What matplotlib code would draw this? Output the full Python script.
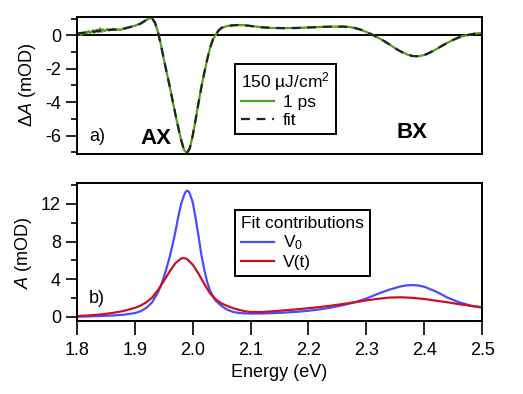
import matplotlib
matplotlib.use("Agg")
import matplotlib.pyplot as plt
from matplotlib.ticker import MultipleLocator

plt.rcParams['font.family'] = ['Liberation Sans', 'DejaVu Sans']
plt.rcParams['mathtext.fontset'] = 'custom'
plt.rcParams['mathtext.rm'] = 'Liberation Sans'
plt.rcParams['mathtext.it'] = 'Liberation Sans:italic'
plt.rcParams['axes.unicode_minus'] = False
plt.rcParams['font.size'] = 13

# --- a) transient absorption at 1 ps, 150 uJ/cm2 ---
e_fit = [1.800, 1.810, 1.820, 1.830, 1.840, 1.850, 1.860, 1.870, 1.880, 1.890,
         1.900, 1.910, 1.920, 1.925, 1.930, 1.935, 1.940, 1.945, 1.950, 1.955,
         1.960, 1.965, 1.970, 1.975, 1.980, 1.985, 1.990, 1.995, 2.000, 2.005,
         2.010, 2.015, 2.020, 2.025, 2.030, 2.035, 2.040, 2.045, 2.050, 2.060,
         2.070, 2.080, 2.090, 2.100, 2.120, 2.140, 2.160, 2.180, 2.200, 2.220,
         2.240, 2.260, 2.270, 2.280, 2.290, 2.300, 2.310, 2.320, 2.330, 2.340,
         2.350, 2.360, 2.370, 2.380, 2.390, 2.400, 2.410, 2.420, 2.430, 2.440,
         2.450, 2.460, 2.470, 2.480, 2.490, 2.500]
dA_fit = [0.10, 0.15, 0.18, 0.22, 0.28, 0.30, 0.33, 0.35, 0.40, 0.48,
          0.57, 0.70, 0.92, 1.02, 1.00, 0.75, 0.20, -0.55, -1.40, -2.20,
          -3.00, -3.85, -4.70, -5.50, -6.25, -6.85, -7.05, -6.75, -6.00, -5.05,
          -4.05, -3.10, -2.25, -1.45, -0.75, -0.25, 0.05, 0.30, 0.45, 0.56,
          0.60, 0.62, 0.60, 0.56, 0.48, 0.44, 0.43, 0.44, 0.47, 0.50,
          0.52, 0.52, 0.50, 0.44, 0.34, 0.20, 0.04, -0.14, -0.33, -0.55,
          -0.78, -0.98, -1.14, -1.24, -1.25, -1.18, -1.03, -0.84, -0.64, -0.44,
          -0.27, -0.12, -0.02, 0.06, 0.11, 0.14]

# measured trace: noisy low-energy part, then follows the fit
e_noisy = [1.8000, 1.8025, 1.8050, 1.8075, 1.8100, 1.8125, 1.8150, 1.8175,
           1.8200, 1.8225, 1.8250, 1.8275, 1.8300, 1.8325, 1.8350, 1.8375,
           1.8400, 1.8425, 1.8450, 1.8475, 1.8500, 1.8525, 1.8550, 1.8575,
           1.8600, 1.8625, 1.8650, 1.8675, 1.8700, 1.8725, 1.8750, 1.8775,
           1.8800, 1.8825, 1.8850, 1.8875]
dA_noisy = [0.12, 0.05, 0.14, 0.02, 0.16, 0.10, 0.22, 0.12,
            0.26, 0.14, 0.20, 0.30, 0.16, 0.28, 0.34, 0.18,
            0.42, 0.20, 0.36, 0.26, 0.30, 0.38, 0.30, 0.36,
            0.33, 0.40, 0.34, 0.37, 0.33, 0.36, 0.32, 0.35,
            0.40, 0.38, 0.42, 0.44]
e_data = e_noisy + [e for e in e_fit if e >= 1.89]
dA_data = dA_noisy + [v for e, v in zip(e_fit, dA_fit) if e >= 1.89]

# --- b) fit contributions ---
e_v0 = [1.80, 1.82, 1.84, 1.86, 1.88, 1.90, 1.91, 1.92, 1.93, 1.940,
        1.945, 1.950, 1.955, 1.960, 1.965, 1.970, 1.975, 1.980, 1.985, 1.9875,
        1.990, 1.9925, 1.995, 2.000, 2.005, 2.010, 2.015, 2.020, 2.025, 2.030,
        2.035, 2.040, 2.050, 2.060, 2.070, 2.080, 2.090, 2.100, 2.120, 2.140,
        2.160, 2.180, 2.200, 2.220, 2.240, 2.260, 2.280, 2.300, 2.320, 2.340,
        2.360, 2.370, 2.380, 2.390, 2.400, 2.420, 2.440, 2.460, 2.480, 2.500]
v0 = [0.02, 0.05, 0.09, 0.14, 0.22, 0.40, 0.60, 0.95, 1.55, 2.60,
      3.30, 4.20, 5.20, 6.30, 7.60, 9.00, 10.6, 12.0, 12.9, 13.25,
      13.4, 13.35, 13.1, 12.2, 10.5, 8.60, 6.60, 5.00, 3.70, 2.80,
      2.15, 1.70, 1.15, 0.75, 0.52, 0.42, 0.37, 0.35, 0.36, 0.40,
      0.46, 0.54, 0.65, 0.80, 1.00, 1.25, 1.55, 1.95, 2.45, 2.90,
      3.25, 3.35, 3.38, 3.33, 3.20, 2.70, 2.05, 1.55, 1.20, 1.00]

e_vt = [1.80, 1.82, 1.84, 1.86, 1.88, 1.90, 1.91, 1.92, 1.93, 1.94,
        1.95, 1.96, 1.97, 1.98, 1.985, 1.99, 2.00, 2.01, 2.02, 2.03,
        2.04, 2.05, 2.06, 2.07, 2.08, 2.09, 2.10, 2.12, 2.14, 2.16,
        2.18, 2.20, 2.22, 2.24, 2.26, 2.28, 2.30, 2.32, 2.34, 2.36,
        2.38, 2.40, 2.42, 2.44, 2.46, 2.48, 2.50]
vt = [0.08, 0.15, 0.25, 0.40, 0.62, 0.95, 1.20, 1.55, 2.05, 2.85,
      3.80, 4.80, 5.70, 6.20, 6.25, 6.15, 5.55, 4.60, 3.50, 2.50,
      1.85, 1.42, 1.15, 0.92, 0.75, 0.60, 0.52, 0.52, 0.60, 0.70,
      0.80, 0.92, 1.05, 1.20, 1.37, 1.55, 1.75, 1.92, 2.05, 2.08,
      2.02, 1.90, 1.72, 1.55, 1.35, 1.17, 1.00]

GREEN = '#55a01a'
BLUE = '#4a4aff'
RED = '#cc1024'

fig = plt.figure(figsize=(5.23, 3.94), dpi=100)
ax1 = fig.add_axes([0.147, 0.609, 0.775, 0.348])
ax2 = fig.add_axes([0.147, 0.185, 0.775, 0.350])

for ax in (ax1, ax2):
    for s in ax.spines.values():
        s.set_linewidth(1.4)
    ax.tick_params(direction='out', width=1.2, length=8, labelsize=13)
    ax.tick_params(which='minor', direction='out', width=1.2, length=4.5)
    ax.set_xlim(1.8, 2.5)

# top panel
ax1.axhline(0, color='k', lw=1.4)
ax1.plot(e_data, dA_data, color=GREEN, lw=1.6, label='1 ps')
ax1.plot(e_fit, dA_fit, color='#222222', lw=1.6, ls=(0, (4, 3)), label='fit')
ax1.set_ylim(-7.1, 1.1)
ax1.yaxis.set_major_locator(MultipleLocator(2))
ax1.yaxis.set_minor_locator(MultipleLocator(1))
ax1.set_xticks([])
ax1.set_ylabel(r'$\Delta\mathit{A}$ (mOD)', fontsize=13, labelpad=5)
ax1.text(0.03, 0.125, 'a)', transform=ax1.transAxes, fontsize=13, va='center')
ax1.text(0.195, 0.11, 'AX', transform=ax1.transAxes, fontsize=16,
         fontweight='bold', ha='center', va='center')
ax1.text(0.827, 0.155, 'BX', transform=ax1.transAxes, fontsize=16,
         fontweight='bold', ha='center', va='center')
leg1 = ax1.legend(title=r'150 µJ/cm$^2$', loc='upper left',
                  bbox_to_anchor=(0.39, 0.66), borderaxespad=0, fontsize=12.5,
                  title_fontsize=12.5, fancybox=False, edgecolor='k',
                  framealpha=1, handlelength=1.9, handletextpad=0.5,
                  labelspacing=0.15, borderpad=0.35)
leg1.get_frame().set_linewidth(1.4)
leg1._legend_box.align = 'left'

# bottom panel
ax2.plot(e_v0, v0, color=BLUE, lw=1.6, label='V$_0$')
ax2.plot(e_vt, vt, color=RED, lw=1.6, label='V(t)')
ax2.set_ylim(-0.45, 14.2)
ax2.yaxis.set_major_locator(MultipleLocator(4))
ax2.yaxis.set_minor_locator(MultipleLocator(2))
ax2.xaxis.set_major_locator(MultipleLocator(0.1))
ax2.xaxis.set_major_formatter(plt.FormatStrFormatter('%.1f'))
ax2.tick_params(axis='x', length=10, pad=5)
ax2.set_ylabel(r'$\mathit{A}$ (mOD)', fontsize=13, labelpad=5)
ax2.set_xlabel('Energy (eV)', fontsize=13, labelpad=4)
ax2.text(0.03, 0.167, 'b)', transform=ax2.transAxes, fontsize=13, va='center')
leg2 = ax2.legend(title='Fit contributions', loc='upper left',
                  bbox_to_anchor=(0.39, 0.805), borderaxespad=0, fontsize=12.5,
                  title_fontsize=12.5, fancybox=False, edgecolor='k',
                  framealpha=1, handlelength=1.9, handletextpad=0.5,
                  labelspacing=0.15, borderpad=0.35)
leg2.get_frame().set_linewidth(1.4)
leg2._legend_box.align = 'left'

fig.savefig('out.png', dpi=100)
